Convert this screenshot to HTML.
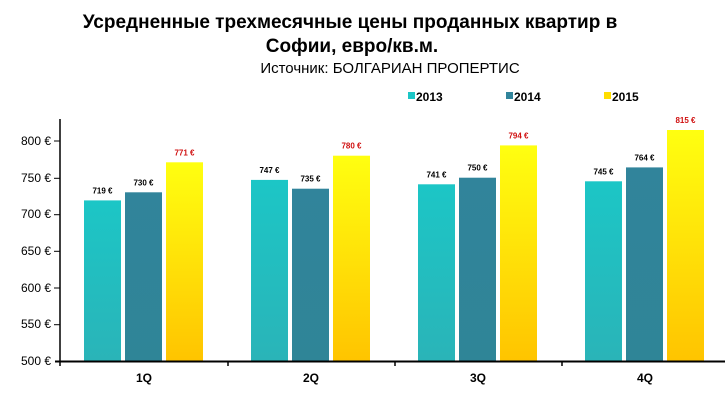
<!DOCTYPE html>
<html><head><meta charset="utf-8"><style>
body{margin:0;background:#fff;}
svg{display:block;font-family:"Liberation Sans",sans-serif;}
</style></head><body>
<svg width="725" height="411" viewBox="0 0 725 411">
<defs>
<linearGradient id="t" x1="0" y1="0" x2="0" y2="1"><stop offset="0" stop-color="#1cc6c6"/><stop offset="1" stop-color="#2ab4b8"/></linearGradient>
<linearGradient id="d" x1="0" y1="0" x2="0" y2="1"><stop offset="0" stop-color="#31849b"/><stop offset="1" stop-color="#2f8597"/></linearGradient>
<linearGradient id="y" x1="0" y1="0" x2="0" y2="1"><stop offset="0" stop-color="#ffff10"/><stop offset="1" stop-color="#ffc400"/></linearGradient>
</defs>
<text x="350" y="28" text-anchor="middle" font-size="19" font-weight="bold">Усредненные трехмесячные цены проданных квартир в</text>
<text x="352" y="52" text-anchor="middle" font-size="19" font-weight="bold">Софии, евро/кв.м.</text>
<text x="390" y="73" text-anchor="middle" font-size="15">Источник: БОЛГАРИАН ПРОПЕРТИС</text>
<rect x="408" y="92" width="7" height="7" fill="#1cc6c6"/><text x="416" y="101" font-size="12" font-weight="bold">2013</text>
<rect x="506" y="92" width="7" height="7" fill="#31849b"/><text x="514" y="101" font-size="12" font-weight="bold">2014</text>
<rect x="604" y="92" width="7" height="7" fill="#ffdd00"/><text x="612" y="101" font-size="12" font-weight="bold">2015</text>
<g font-size="12" text-anchor="end">
<text x="51" y="145">800 €</text><text x="51" y="182">750 €</text><text x="51" y="218">700 €</text><text x="51" y="255">650 €</text><text x="51" y="292">600 €</text><text x="51" y="328">550 €</text><text x="51" y="365">500 €</text>
</g>
<g stroke="#000" stroke-width="1">
<line x1="54" y1="141" x2="60" y2="141"/><line x1="54" y1="178.3" x2="60" y2="178.3"/><line x1="54" y1="214.7" x2="60" y2="214.7"/><line x1="54" y1="251.3" x2="60" y2="251.3"/><line x1="54" y1="288" x2="60" y2="288"/><line x1="54" y1="324.7" x2="60" y2="324.7"/>
</g>
<rect x="84" y="200.4" width="37" height="160.6" fill="url(#t)"/>
<rect x="125" y="192.3" width="37" height="168.7" fill="url(#d)"/>
<rect x="166" y="162.3" width="37" height="198.7" fill="url(#y)"/>
<rect x="251" y="179.9" width="37" height="181.1" fill="url(#t)"/>
<rect x="292" y="188.7" width="37" height="172.3" fill="url(#d)"/>
<rect x="333" y="155.7" width="37" height="205.3" fill="url(#y)"/>
<rect x="418" y="184.3" width="37" height="176.7" fill="url(#t)"/>
<rect x="459" y="177.7" width="37" height="183.3" fill="url(#d)"/>
<rect x="500" y="145.4" width="37" height="215.6" fill="url(#y)"/>
<rect x="585" y="181.3" width="37" height="179.7" fill="url(#t)"/>
<rect x="626" y="167.4" width="37" height="193.6" fill="url(#d)"/>
<rect x="667" y="130.0" width="37" height="231.0" fill="url(#y)"/>
<g font-size="8" font-weight="bold" text-anchor="middle">
<text x="102.5" y="193.4">719 €</text><text x="143.5" y="185.3">730 €</text><text x="184.5" y="155.3" fill="#d01010">771 €</text>
<text x="269.5" y="172.9">747 €</text><text x="310.5" y="181.7">735 €</text><text x="351.5" y="148.7" fill="#d01010">780 €</text>
<text x="436.5" y="177.3">741 €</text><text x="477.5" y="170.7">750 €</text><text x="518.5" y="138.4" fill="#d01010">794 €</text>
<text x="603.5" y="174.3">745 €</text><text x="644.5" y="160.4">764 €</text><text x="685.5" y="123.0" fill="#d01010">815 €</text>
</g>
<line x1="60" y1="119" x2="60" y2="366" stroke="#000" stroke-width="1.5"/>
<line x1="55" y1="361.5" x2="725" y2="361.5" stroke="#000" stroke-width="2"/>
<g stroke="#000" stroke-width="1.5"><line x1="228" y1="361" x2="228" y2="366"/><line x1="395" y1="361" x2="395" y2="366"/><line x1="562" y1="361" x2="562" y2="366"/></g>
<g font-size="12" font-weight="bold" text-anchor="middle">
<text x="144" y="382">1Q</text><text x="311" y="382">2Q</text><text x="478" y="382">3Q</text><text x="645" y="382">4Q</text>
</g>
</svg>
</body></html>
